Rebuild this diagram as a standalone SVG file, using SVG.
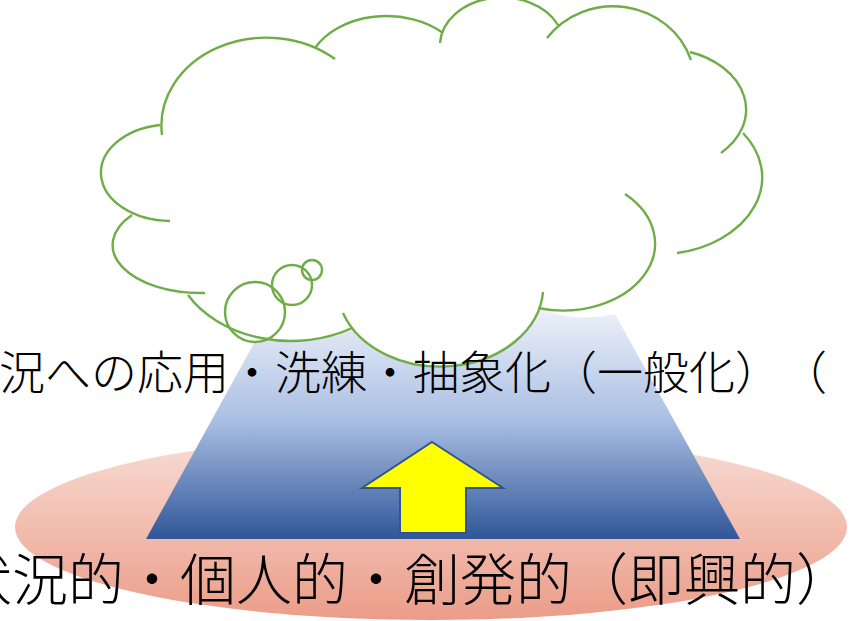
<svg xmlns="http://www.w3.org/2000/svg" width="854" height="621" viewBox="0 0 854 621">
  <defs>
    <linearGradient id="gPink" gradientUnits="userSpaceOnUse" x1="0" y1="430" x2="0" y2="621">
      <stop offset="0" stop-color="#f8dfd7"/>
      <stop offset="1" stop-color="#eb9c88"/>
    </linearGradient>
    <linearGradient id="gBlue" gradientUnits="userSpaceOnUse" x1="0" y1="300" x2="0" y2="540">
      <stop offset="0" stop-color="#f2f5fb"/>
      <stop offset="0.5" stop-color="#aabfe3"/>
      <stop offset="1" stop-color="#2f5597"/>
    </linearGradient>
    <style>
      .cloudline { fill: none; stroke: #70ad47; stroke-width: 2.4; }
      .cloudfill { fill: #ffffff; stroke: none; }
      .label { font-family: "Noto Sans CJK JP", "Noto Sans CJK SC", sans-serif; font-weight: 300; fill: #000000; text-spacing-trim: space-all; font-kerning: none; }
    </style>
  </defs>

  <g id="base-ellipse">
    <ellipse cx="431" cy="527" rx="416" ry="93" fill="url(#gPink)"/>
  </g>

  <g id="trapezoid">
    <polygon points="289,280 596,280 740,539 146,539" fill="url(#gBlue)"/>
  </g>

  <g id="up-arrow">
    <polygon points="432,442 503,488 466,488 466,533 400,533 400,488 362,488" fill="#ffff00" stroke="#2f5597" stroke-width="2" stroke-linejoin="miter"/>
  </g>

  <g id="thought-cloud">
    <path class="cloudfill" d="M160,125 A105,88 0 0,1 315,48 A80,58 0 0,1 442,35 A62,48 0 0,1 556,25 A82,78 0 0,1 690,52 A84,61 0 0,1 743,133 A105,77 0 0,1 677,253 A92,67 0 0,1 538,308 A103,80 0 0,1 352,328 A118,90 0 0,1 188,295 A88,48 0 0,1 132,215 A70,48.3 0 0,1 160,125 Z"/>
    <circle class="cloudfill" cx="255" cy="312" r="30"/>
    <circle class="cloudfill" cx="292" cy="285" r="20"/>
    <circle class="cloudfill" cx="312" cy="270" r="10"/>
    <path class="cloudline" d="M162,135 A105,88 0 0,1 335,59 M315,48 A80,58 0 0,1 443,33 M440,43 A62,48 0 0,1 558,25 M547,38 A82,78 0 0,1 691,60 M690,52 A84,61 0 0,1 721,153 M743,133 A105,77 0 0,1 677,253 M625,194 A92,67 0 0,1 538,308 M543,292 A103,80 0 0,1 343,313 M352,328 A118,90 0 0,1 188,295 M205,293 A88,48 0 0,1 132,215 M170,221 A70,48.3 0 0,1 160,125"/>
    <circle class="cloudline" cx="255" cy="312" r="30"/>
    <circle class="cloudline" cx="292" cy="285" r="20"/>
    <circle class="cloudline" cx="312" cy="270" r="10"/>
  </g>

  <g id="upper-label">
    <text class="label" x="-1" y="389" font-size="46">況への応用・洗練・抽象化（一般化）（</text>
  </g>

  <g id="lower-label">
    <text class="label" x="-44" y="600" font-size="56">状況的・個人的・創発的（即興的）</text>
  </g>

  <g id="connectors"></g>
</svg>
